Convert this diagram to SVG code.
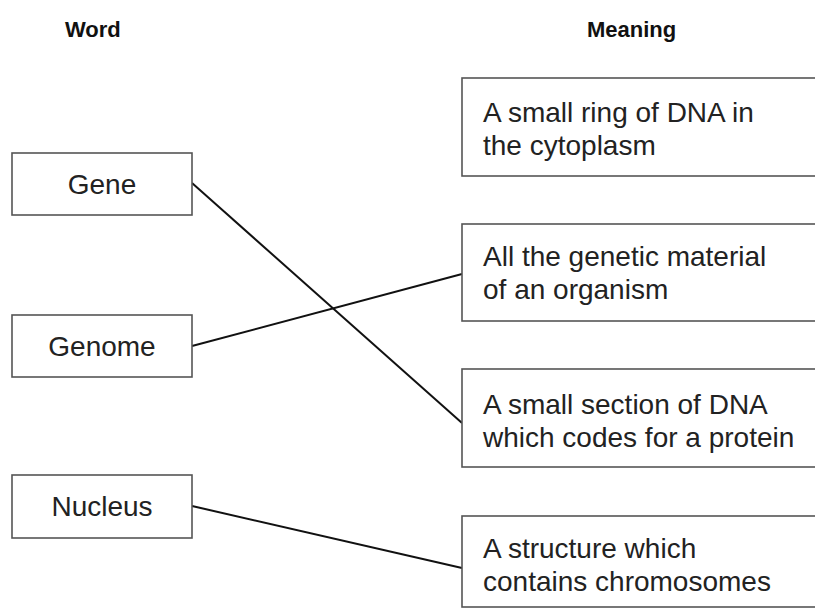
<svg xmlns="http://www.w3.org/2000/svg" width="815" height="612" viewBox="0 0 815 612">
<style>
.box{fill:#fff;stroke:#555;stroke-width:1.6}
.t{font-family:"Liberation Sans",Arial,sans-serif;font-size:28px;fill:#222}
.h{font-family:"Liberation Sans",Arial,sans-serif;font-size:22px;font-weight:bold;fill:#111}
.c{stroke:#111;stroke-width:2;fill:none}
</style>
<rect width="815" height="612" fill="#fff"/>
<text class="h" x="65" y="37">Word</text>
<text class="h" x="587" y="37">Meaning</text>
<g id="connectors">
<line class="c" x1="192" y1="183" x2="462" y2="423"/>
<line class="c" x1="192" y1="346" x2="462" y2="274"/>
<line class="c" x1="192" y1="506" x2="462" y2="568"/>
</g>
<g id="gene"><rect class="box" x="12" y="153" width="180" height="62"/><text class="t" x="102" y="194" text-anchor="middle">Gene</text></g>
<g id="genome"><rect class="box" x="12" y="315" width="180" height="62"/><text class="t" x="102" y="356" text-anchor="middle">Genome</text></g>
<g id="nucleus"><rect class="box" x="12" y="475" width="180" height="63"/><text class="t" x="102" y="516" text-anchor="middle">Nucleus</text></g>
<g id="m1"><rect class="box" x="462" y="78" width="370" height="98"/><text class="t" x="483" y="122">A small ring of DNA in</text><text class="t" x="483" y="155">the cytoplasm</text></g>
<g id="m2"><rect class="box" x="462" y="224" width="370" height="97"/><text class="t" x="483" y="266">All the genetic material</text><text class="t" x="483" y="299">of an organism</text></g>
<g id="m3"><rect class="box" x="462" y="369" width="370" height="98"/><text class="t" x="483" y="414">A small section of DNA</text><text class="t" x="483" y="447">which codes for a protein</text></g>
<g id="m4"><rect class="box" x="462" y="516" width="370" height="91"/><text class="t" x="483" y="558">A structure which</text><text class="t" x="483" y="591">contains chromosomes</text></g>
</svg>
